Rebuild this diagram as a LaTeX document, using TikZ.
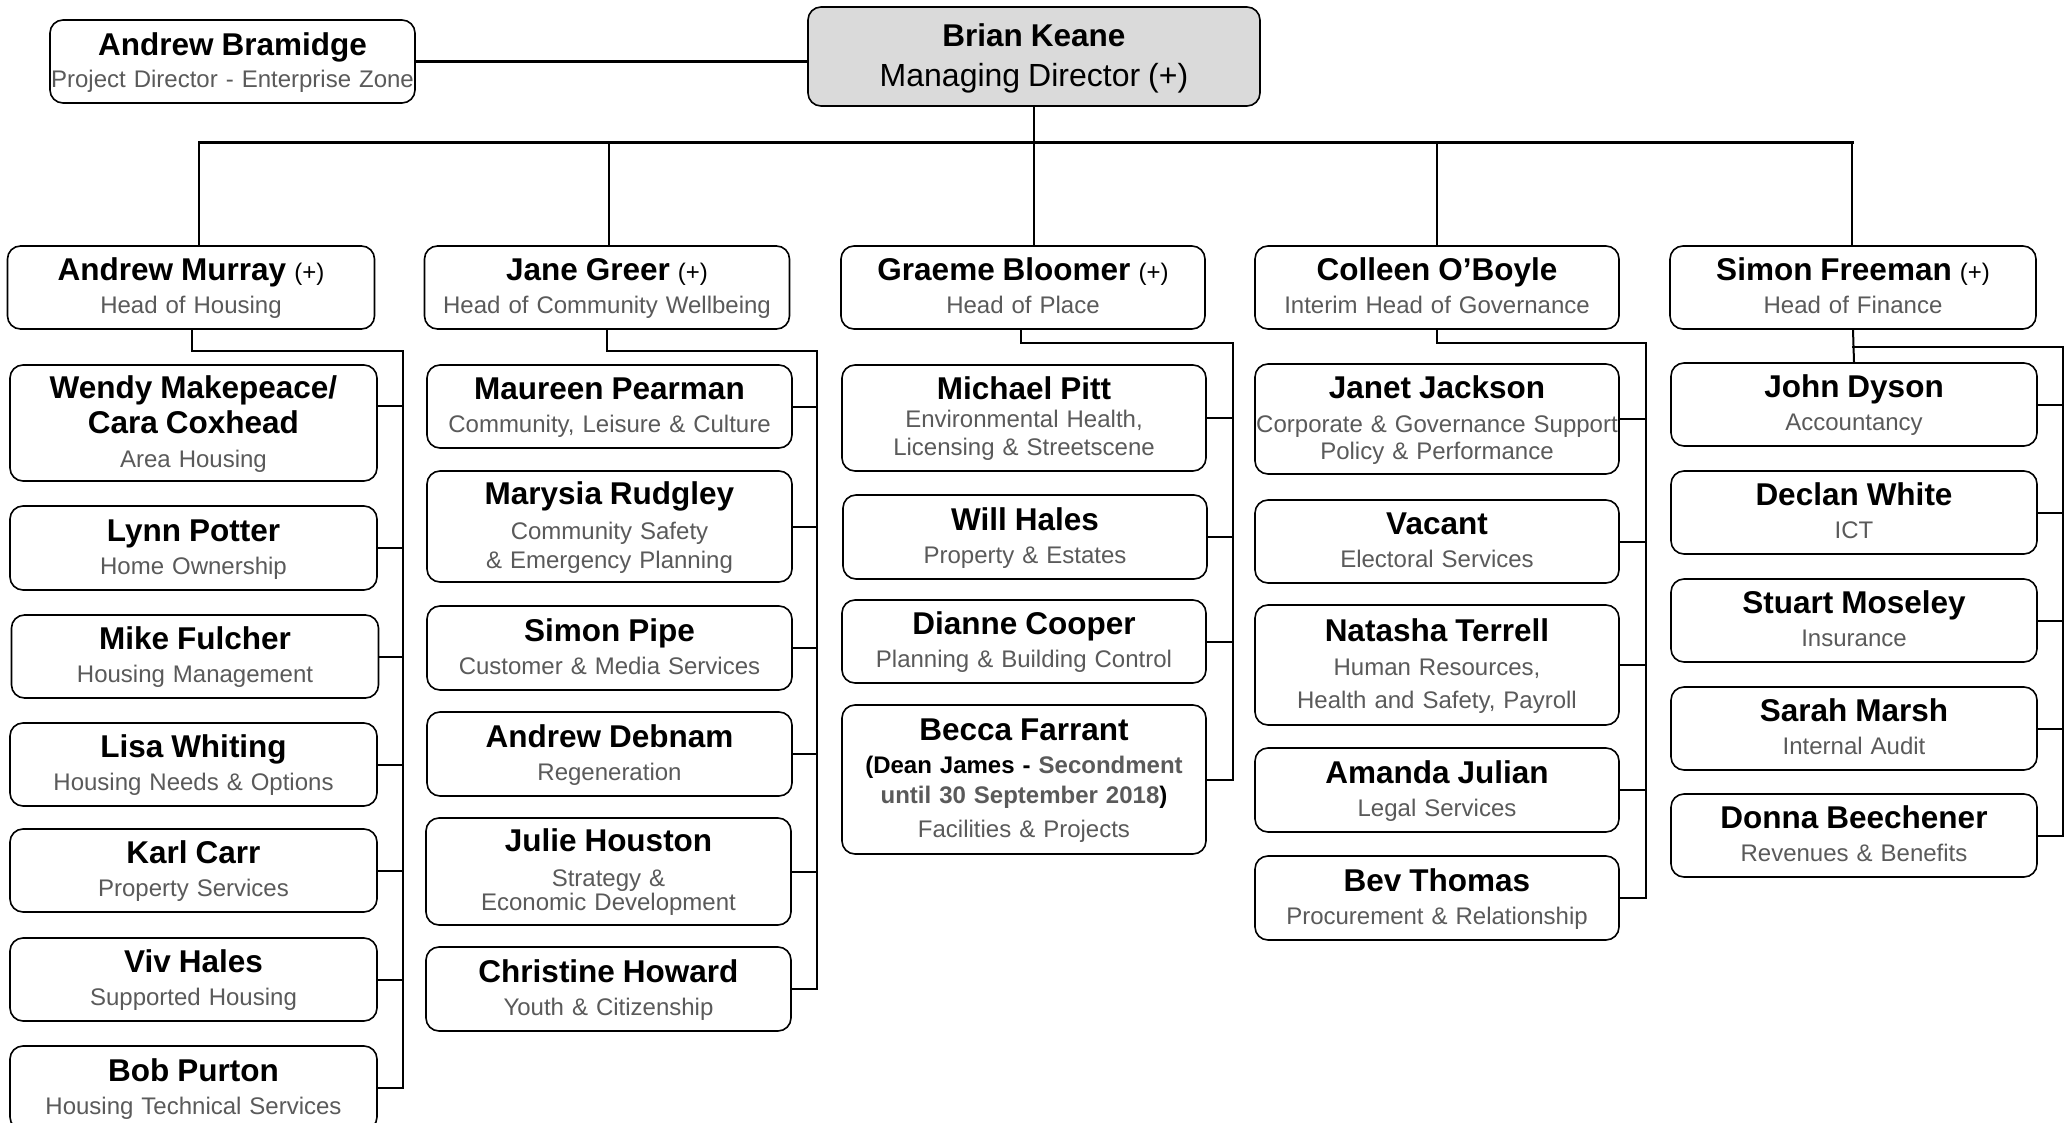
\documentclass[tikz,border=0pt]{standalone}
\usepackage{fontspec}
\setmainfont{Liberation Sans}
\definecolor{subgrey}{HTML}{5A5A5A}
\definecolor{mdfill}{HTML}{DADADA}
\newcommand\pn[1]{{\color{black}\fontsize{31.5}{28}\selectfont\bfseries #1}}
\newcommand\pplus{{\color{black}\fontsize{24}{28}\selectfont\ (+)}}
\lineskiplimit=-100pt
\begin{document}
\begin{tikzpicture}[x=1pt,y=-1pt,
  box/.style={draw, line width=1.6pt, rounded corners=13pt, fill=white, align=center,
    inner sep=0pt, text=subgrey, font=\fontsize{24}{28}\selectfont,
    execute at begin node={\rule{0pt}{28pt}}, execute at end node={\rule[-8.4pt]{0pt}{1pt}}},
  c1/.style={box, minimum width=367pt, text width=363pt},
  c2/.style={box, minimum width=365pt, text width=361pt},
  c3/.style={box, minimum width=364pt, text width=360pt},
  c4/.style={box, minimum width=364pt, text width=360pt},
  c5/.style={box, minimum width=366pt, text width=362pt},
  conn/.style={line width=2pt, line cap=rect},
  bus/.style={line width=3pt, line cap=rect}]
\useasboundingbox (0,0) rectangle (2067,1123);

% top level
\node[box, minimum width=365pt, minimum height=83pt, text width=361pt] (bram) at (232.5,61.5)
  {\pn{Andrew Bramidge}\\[4pt]\makebox[355pt][c]{Project Director - Enterprise Zone}};
\node[box, fill=mdfill, minimum width=452pt, minimum height=99pt, text width=440pt] (brian) at (1034,56.5)
  {\pn{Brian Keane}\\[12pt]{\color{black}\fontsize{32}{28}\selectfont Managing Director (+)}};

% heads
\node[c1, minimum height=83pt] (h1) at (191,287.5) {\pn{Andrew Murray}\pplus\\[5pt]Head of Housing};
\node[c2, minimum height=83pt] (h2) at (607,287.5) {\pn{Jane Greer}\pplus\\[5pt]Head of Community Wellbeing};
\node[c3, minimum height=83pt] (h3) at (1023,287.5) {\pn{Graeme Bloomer}\pplus\\[5pt]Head of Place};
\node[c4, minimum height=83pt] (h4) at (1437,287.5) {\pn{Colleen O’Boyle}\\[5pt]Interim Head of Governance};
\node[c5, minimum height=83pt] (h5) at (1853,287.5) {\pn{Simon Freeman}\pplus\\[5pt]Head of Finance};

% column 1
\node[c1, minimum height=116pt] (wendy) at (193.5,423) {\pn{Wendy Makepeace/}\\[5pt]\pn{Cara Coxhead}\\[6pt]Area Housing};
\node[c1, minimum height=84pt] (lynn) at (193.5,548) {\pn{Lynn Potter}\\[5pt]Home Ownership};
\node[c1, minimum height=83pt] (mike) at (195,656.5) {\pn{Mike Fulcher}\\[5pt]Housing Management};
\node[c1, minimum height=83pt] (lisa) at (193.5,764.5) {\pn{Lisa Whiting}\\[5pt]Housing Needs \& Options};
\node[c1, minimum height=83pt] (karl) at (193.5,870.5) {\pn{Karl Carr}\\[5pt]Property Services};
\node[c1, minimum height=83pt] (viv) at (193.5,979.5) {\pn{Viv Hales}\\[5pt]Supported Housing};
\node[c1, minimum height=84pt] (bob) at (193.5,1088) {\pn{Bob Purton}\\[5pt]Housing Technical Services};

% column 2
\node[c2, minimum height=83pt] (maureen) at (609.5,406.5) {\pn{Maureen Pearman}\\[5pt]Community, Leisure \& Culture};
\node[c2, minimum height=111pt] (marysia) at (609.5,526.5) {\pn{Marysia Rudgley}\\[7pt]Community Safety\\[1pt]\& Emergency Planning};
\node[c2, minimum height=84pt] (pipe) at (609.5,648) {\pn{Simon Pipe}\\[5pt]Customer \& Media Services};
\node[c2, minimum height=84pt] (debnam) at (609.5,754) {\pn{Andrew Debnam}\\[5pt]Regeneration};
\node[c2, minimum height=107pt] (julie) at (608.5,871.5) {\pn{Julie Houston}\\[7pt]Strategy \&\\[-4pt]Economic Development};
\node[c2, minimum height=84pt] (chris) at (608.5,989) {\pn{Christine Howard}\\[5pt]Youth \& Citizenship};

% column 3
\node[c3, minimum height=106pt] (pitt) at (1024,418) {\pn{Michael Pitt}\\[0pt]Environmental Health,\\Licensing \& Streetscene};
\node[c3, minimum height=84pt] (will) at (1025,537) {\pn{Will Hales}\\[5pt]Property \& Estates};
\node[c3, minimum height=83pt] (dianne) at (1024,641.5) {\pn{Dianne Cooper}\\[5pt]Planning \& Building Control};
\node[c3, minimum height=149pt] (becca) at (1024,779.5) {\pn{Becca Farrant}\\[5pt]{\bfseries\color{black}(Dean James - }{\bfseries Secondment}\\[2pt]{\bfseries until 30 September 2018}{\bfseries\color{black})}\\[6pt]Facilities \& Projects};

% column 4
\node[c4, minimum height=110pt] (janet) at (1437,419) {\pn{Janet Jackson}\\[6pt]\makebox[350pt][c]{Corporate \& Governance Support}\\[-1pt]Policy \& Performance};
\node[c4, minimum height=83pt] (vacant) at (1437,541.5) {\pn{Vacant}\\[5pt]Electoral Services};
\node[c4, minimum height=120pt] (natasha) at (1437,665) {\pn{Natasha Terrell}\\[6pt]Human Resources,\\[5pt]Health and Safety, Payroll};
\node[c4, minimum height=84pt] (amanda) at (1437,790) {\pn{Amanda Julian}\\[5pt]Legal Services};
\node[c4, minimum height=84pt] (bev) at (1437,898) {\pn{Bev Thomas}\\[5pt]Procurement \& Relationship};

% column 5
\node[c5, minimum height=83pt] (john) at (1854,404.5) {\pn{John Dyson}\\[5pt]Accountancy};
\node[c5, minimum height=83pt] (declan) at (1854,512.5) {\pn{Declan White}\\[5pt]ICT};
\node[c5, minimum height=83pt] (stuart) at (1854,620.5) {\pn{Stuart Moseley}\\[5pt]Insurance};
\node[c5, minimum height=83pt] (sarah) at (1854,728.5) {\pn{Sarah Marsh}\\[5pt]Internal Audit};
\node[c5, minimum height=83pt] (donna) at (1854,835.5) {\pn{Donna Beechener}\\[5pt]Revenues \& Benefits};

% top connectors
\draw[bus] (bram.east) -- (bram.east -| brian.west);
\coordinate (busL) at (199,143);
\coordinate (busR) at (1852,143);
\draw[bus] (busL) -- (busR);
\draw[conn] (brian.south) -- (brian.south |- h3.north);
\draw[conn] (busL) -- (busL |- h1.north);
\draw[conn] ([xshift=2pt]h2.north |- busL) -- ([xshift=2pt]h2.north);
\draw[conn] (h4.north |- busL) -- (h4.north);
\draw[conn] (busR) -- (busR |- h5.north);

% column 1 connectors
\coordinate (v1) at (403,351);
\draw[conn] ([xshift=1pt]h1.south) |- (v1) -- (v1 |- bob.east) -- (bob.east);
\draw[conn] ([yshift=17pt]wendy.east) -- ([yshift=17pt]wendy.east -| v1);
\foreach \n in {lynn,mike,lisa,karl,viv} \draw[conn] (\n.east) -- (\n.east -| v1);

% column 2 connectors
\coordinate (v2) at (817,351);
\draw[conn] (h2.south) |- (v2) -- (v2 |- chris.east) -- (chris.east);
\foreach \n in {maureen,marysia,pipe,debnam,julie} \draw[conn] (\n.east) -- (\n.east -| v2);

% column 3 connectors
\coordinate (v3) at (1233,343);
\draw[conn] ([xshift=-2pt]h3.south) |- (v3) -- (v3 |- becca.east) -- (becca.east);
\foreach \n in {pitt,will,dianne} \draw[conn] (\n.east) -- (\n.east -| v3);

% column 4 connectors
\coordinate (v4) at (1646,343);
\draw[conn] (h4.south) |- (v4) -- (v4 |- bev.east) -- (bev.east);
\foreach \n in {janet,vacant,natasha,amanda} \draw[conn] (\n.east) -- (\n.east -| v4);

% column 5 connectors
\coordinate (v5) at (2063,347);
\draw[conn] (h5.south) -- (john.north);
\draw[conn] (h5.south |- v5) -- (v5) -- (v5 |- donna.east) -- (donna.east);
\foreach \n in {john,declan,stuart,sarah} \draw[conn] (\n.east) -- (\n.east -| v5);
\end{tikzpicture}
\end{document}
